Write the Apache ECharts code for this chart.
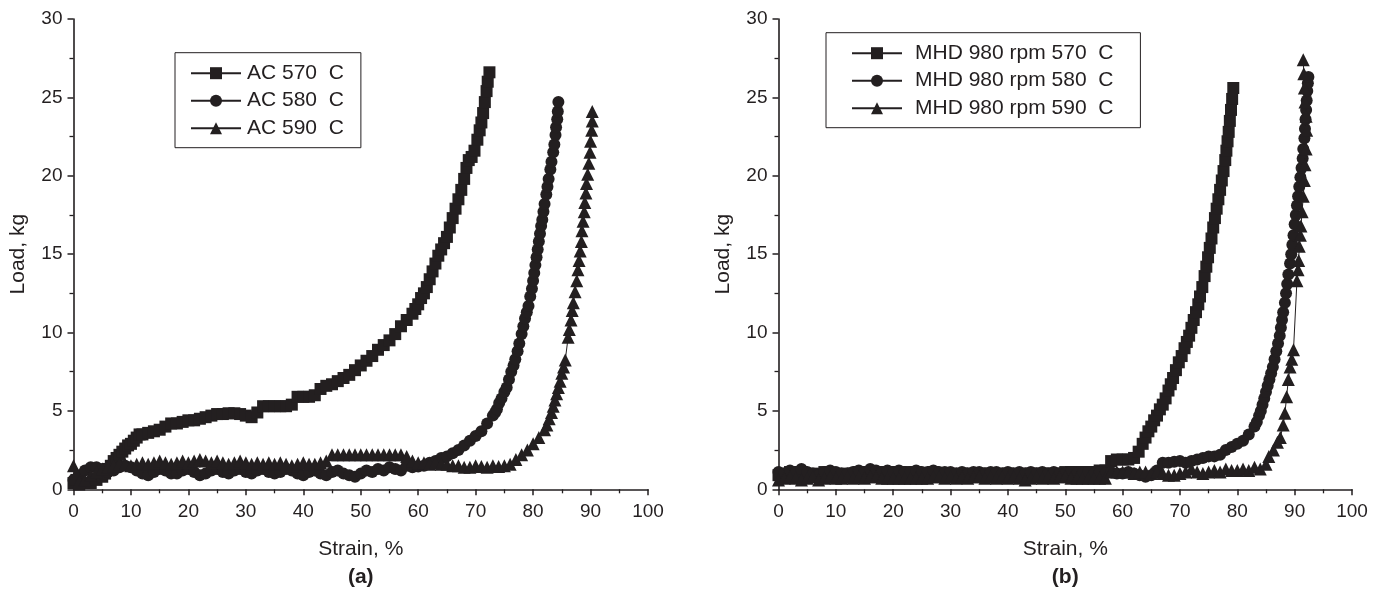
<!DOCTYPE html>
<html>
<head>
<meta charset="utf-8">
<script src="https://cdn.jsdelivr.net/npm/echarts@6/dist/echarts.min.js"></script>
<style>
html,body{margin:0;padding:0;background:#fff;}
#chart{width:1379px;height:592px;}
</style>
</head>
<body>
<div id="chart"></div>
<script>
// ---------- data (strain %, load kg) ----------
const namesA = ['AC 570  C', 'AC 580  C', 'AC 590  C'];
const namesB = ['MHD 980 rpm 570  C', 'MHD 980 rpm 580  C', 'MHD 980 rpm 590  C'];
const panelLabels = ['(a)', '(b)'];
const xAxisName = 'Strain, %';
const yAxisName = 'Load, kg';

const ac570 = [[0,0.4],[0.5,0.6],[1,0.3],[2,0.4],[3,0.4],[4,0.6],[5,0.8],[5.5,1.0],[6,1.3],[6.5,1.5],[7,1.8],[7.5,2.0],[8,2.2],[8.5,2.4],[9,2.6],[9.5,2.8],[10,2.9],[10.5,3.1],[11,3.3],[11.5,3.5],[12,3.5],[13,3.6],[14,3.7],[15,3.8],[16,4.0],[17,4.2],[18,4.2],[19,4.3],[20,4.4],[21,4.4],[22,4.5],[23,4.6],[24,4.7],[25,4.8],[26,4.8],[27,4.85],[28,4.85],[29,4.8],[30,4.7],[31,4.6],[32,4.9],[33,5.3],[34,5.3],[35,5.3],[36,5.3],[37,5.3],[38,5.4],[39,5.9],[40,5.9],[41,5.9],[42,6.0],[43,6.4],[44,6.6],[45,6.7],[46,6.9],[47,7.1],[48,7.3],[49,7.6],[50,7.9],[51,8.2],[52,8.5],[53,8.9],[54,9.2],[55,9.5],[56,9.9],[57,10.4],[58,10.8],[59,11.2],[59.5,11.5],[60,11.8],[60.5,12.2],[61,12.5],[61.5,12.9],[62,13.4],[62.5,13.9],[63,14.4],[63.5,14.9],[64,15.3],[64.5,15.7],[65,16.1],[65.5,16.7],[66,17.3],[66.5,17.9],[67,18.5],[67.5,19.1],[68,19.8],[68.4,20.5],[68.8,21.0],[69.3,21.2],[69.8,21.6],[70.3,22.3],[70.7,22.9],[71.0,23.4],[71.3,24.0],[71.6,24.7],[71.9,25.4],[72.1,26.0],[72.4,26.6]];

const ac580 = [[0,0.6],[1,0.9],[2,1.2],[3,1.4],[4,1.4],[5,1.3],[6,1.1],[7,1.2],[8,1.4],[9,1.5],[10,1.4],[11,1.2],[12,1.0],[13,0.9],[14,1.1],[15,1.3],[16,1.2],[17,1.0],[18,1.0],[19,1.2],[20,1.3],[21,1.1],[22,0.9],[23,1.0],[24,1.2],[25,1.3],[26,1.1],[27,1.0],[28,1.2],[29,1.3],[30,1.1],[31,1.0],[32,1.2],[33,1.3],[34,1.1],[35,1.0],[36,1.1],[37,1.3],[38,1.2],[39,1.0],[40,0.9],[41,1.1],[42,1.2],[43,1.0],[44,0.9],[45,1.1],[46,1.2],[47,1.0],[48,0.9],[49,0.8],[50,1.0],[51,1.2],[52,1.1],[53,1.3],[54,1.2],[55,1.4],[56,1.3],[57,1.2],[58,1.5],[59,1.4],[60,1.45],[61,1.5],[62,1.7],[63,1.8],[64,2.0],[65,2.1],[66,2.3],[67,2.5],[68,2.8],[69,3.1],[70,3.4],[71,3.7],[72,4.2],[73,4.7],[73.4,4.9],[73.7,5.1],[74.1,5.5],[74.5,5.8],[75,6.2],[75.4,6.5],[75.8,7.0],[76.2,7.5],[76.6,7.9],[76.9,8.3],[77.3,8.8],[77.6,9.3],[78,9.9],[78.3,10.4],[78.6,10.9],[78.9,11.3],[79.2,11.7],[79.5,12.3],[79.8,12.8],[80,13.3],[80.2,13.8],[80.4,14.3],[80.6,14.8],[80.8,15.3],[81.0,15.8],[81.2,16.3],[81.4,16.8],[81.6,17.2],[81.8,17.7],[82.0,18.2],[82.3,18.8],[82.5,19.3],[82.7,19.8],[83.0,20.4],[83.2,20.9],[83.5,21.5],[83.7,22.0],[83.9,22.6],[84.0,23.1],[84.2,23.6],[84.3,24.1],[84.4,24.7]];

const ac590 = [[0,1.5],[0.5,1.0],[1,0.5],[2,0.6],[3,0.9],[4,1.1],[5,1.3],[6,1.4],[7,1.5],[8,1.6],[9,1.6],[10,1.5],[11,1.6],[12,1.7],[13,1.6],[14,1.7],[15,1.8],[16,1.7],[17,1.6],[18,1.7],[19,1.8],[20,1.7],[21,1.8],[22,1.9],[23,1.8],[24,1.7],[25,1.8],[26,1.7],[27,1.6],[28,1.7],[29,1.8],[30,1.7],[31,1.6],[32,1.7],[33,1.6],[34,1.7],[35,1.6],[36,1.7],[37,1.6],[38,1.5],[39,1.6],[40,1.7],[41,1.6],[42,1.6],[43,1.7],[44,1.8],[45,2.2],[46,2.2],[47,2.2],[48,2.2],[49,2.2],[50,2.2],[51,2.2],[52,2.2],[53,2.2],[54,2.2],[55,2.2],[56,2.2],[57,2.2],[58,2.1],[59,1.8],[60,1.7],[61,1.7],[62,1.6],[63,1.7],[64,1.6],[65,1.6],[66,1.5],[67,1.5],[68,1.4],[69,1.4],[70,1.5],[71,1.45],[72,1.4],[73,1.5],[74,1.45],[75,1.5],[76,1.6],[77,1.9],[78,2.2],[79,2.5],[80,2.9],[81,3.3],[82,3.8],[82.4,4.1],[82.8,4.5],[83.2,4.9],[83.5,5.3],[83.8,5.7],[84.1,6.1],[84.4,6.5],[84.7,6.9],[85.0,7.4],[85.3,7.8],[85.6,8.25],[86.1,9.7],[86.3,10.2],[86.6,10.8],[86.8,11.4],[87.0,11.9],[87.3,12.6],[87.6,13.3],[87.8,14.0],[88.0,14.6],[88.2,15.2],[88.4,15.8],[88.5,16.5],[88.7,17.1],[88.9,17.7],[89.0,18.3],[89.2,18.9],[89.3,19.5],[89.5,20.1],[89.7,20.8],[89.9,21.5],[90.0,22.2],[90.2,22.9],[90.3,23.5],[90.3,24.1]];

const mhd570 = [[0,0.9],[1,1.0],[2,1.1],[3,1.0],[4,1.1],[5,1.0],[6,0.9],[7,1.0],[8,1.1],[9,1.0],[10,1.0],[11,0.9],[12,1.0],[13,1.0],[14,1.1],[15,1.0],[16,1.1],[17,1.1],[18,1.0],[19,1.1],[20,1.1],[21,1.0],[22,1.1],[23,1.0],[24,1.1],[25,1.0],[26,1.0],[27,1.1],[28,1.0],[29,1.0],[30,1.0],[31,0.9],[32,1.0],[33,1.0],[34,0.9],[35,1.0],[36,1.0],[37,1.0],[38,0.9],[39,1.0],[40,1.0],[41,1.0],[42,0.9],[43,1.0],[44,1.0],[45,1.0],[46,1.0],[47,1.0],[48,1.0],[49,1.0],[50,1.1],[51,1.1],[52,1.1],[53,1.1],[54,1.1],[55,1.1],[56,1.2],[57,1.2],[58,1.8],[59,1.9],[60,1.9],[61,1.9],[62,2.0],[62.8,2.4],[63.5,2.9],[64,3.3],[64.5,3.7],[65,4.0],[65.5,4.4],[66,4.7],[66.5,5.1],[67,5.4],[67.5,5.8],[68,6.3],[68.4,6.7],[68.8,7.1],[69.3,7.6],[69.8,8.1],[70.3,8.5],[70.8,9.0],[71.2,9.4],[71.6,9.8],[72.0,10.3],[72.4,10.8],[72.8,11.3],[73.2,11.8],[73.5,12.3],[73.9,12.9],[74.3,13.6],[74.6,14.2],[74.9,14.8],[75.2,15.4],[75.5,16.0],[75.8,16.7],[76.1,17.3],[76.4,17.9],[76.7,18.5],[77.0,19.1],[77.3,19.7],[77.6,20.3],[77.9,21.0],[78.1,21.6],[78.3,22.2],[78.5,22.8],[78.7,23.5],[78.9,24.2],[79.1,24.9],[79.3,25.6]];

const mhd580 = [[0,1.1],[1,1.0],[2,1.2],[3,1.1],[4,1.3],[5,1.1],[6,1.0],[7,0.9],[8,1.1],[9,1.2],[10,1.1],[11,1.0],[12,1.0],[13,1.1],[14,1.2],[15,1.1],[16,1.3],[17,1.2],[18,1.1],[19,1.2],[20,1.1],[21,1.2],[22,1.1],[23,1.1],[24,1.2],[25,1.1],[26,1.1],[27,1.2],[28,1.1],[29,1.1],[30,1.1],[31,1.0],[32,1.1],[33,1.0],[34,1.1],[35,1.1],[36,1.0],[37,1.1],[38,1.1],[39,1.0],[40,1.1],[41,1.0],[42,1.1],[43,1.0],[44,1.1],[45,1.0],[46,1.1],[47,1.0],[48,1.1],[49,1.0],[50,1.0],[51,1.1],[52,1.0],[53,1.0],[54,1.1],[55,1.0],[56,1.1],[57,1.0],[58,1.1],[59,1.0],[60,1.0],[61,1.1],[62,1.0],[63,0.9],[64,0.8],[65,0.9],[66,1.2],[67,1.7],[68,1.7],[69,1.75],[70,1.8],[71,1.7],[72,1.8],[73,1.9],[74,2.0],[75,2.1],[76,2.1],[77,2.2],[78,2.5],[79,2.7],[80,2.9],[81,3.1],[82,3.5],[83,4.0],[83.4,4.3],[83.8,4.7],[84.1,5.0],[84.4,5.4],[84.7,5.8],[85.0,6.2],[85.3,6.6],[85.6,7.0],[85.9,7.4],[86.2,7.8],[86.5,8.3],[86.8,8.8],[87.1,9.3],[87.4,9.8],[87.6,10.3],[87.8,10.8],[88.0,11.3],[88.3,11.9],[88.5,12.5],[88.7,13.1],[88.9,13.7],[89.2,14.4],[89.4,15.0],[89.6,15.6],[89.8,16.2],[90.0,16.9],[90.2,17.5],[90.4,18.1],[90.6,18.7],[90.8,19.3],[91.0,19.9],[91.2,20.5],[91.4,21.1],[91.5,21.7],[91.7,22.4],[91.8,23.0],[91.9,23.6],[92.0,24.2],[92.1,24.8],[92.2,25.4],[92.3,25.9],[92.4,26.3]];

const mhd590 = [[0,0.6],[1,0.7],[2,0.8],[3,0.7],[4,0.6],[5,0.7],[6,0.8],[7,0.6],[8,0.7],[9,0.8],[10,0.7],[11,0.7],[12,0.8],[13,0.7],[14,0.8],[15,0.7],[16,0.8],[17,0.8],[18,0.7],[19,0.7],[20,0.7],[21,0.7],[22,0.7],[23,0.7],[24,0.7],[25,0.7],[26,0.7],[27,0.8],[28,0.8],[29,0.7],[30,0.8],[31,0.7],[32,0.8],[33,0.7],[34,0.8],[35,0.8],[36,0.7],[37,0.8],[38,0.7],[39,0.8],[40,0.7],[41,0.8],[42,0.7],[43,0.6],[44,0.7],[45,0.8],[46,0.7],[47,0.8],[48,0.7],[49,0.8],[50,0.8],[51,0.7],[52,0.7],[53,0.7],[54,0.7],[55,0.7],[56,0.7],[57,0.7],[58,1.1],[59,1.1],[60,1.1],[61,1.1],[62,1.0],[63,1.1],[64,1.1],[65,1.0],[66,1.1],[67,1.0],[68,0.9],[69,0.9],[70,1.0],[71,1.1],[72,1.3],[73,1.1],[74,1.0],[75,1.1],[76,1.2],[77,1.1],[78,1.3],[79,1.2],[80,1.2],[81,1.3],[82,1.2],[83,1.4],[84,1.3],[85,1.6],[85.5,2.1],[86.3,2.5],[87.0,3.0],[87.5,3.3],[88.0,4.1],[88.3,4.85],[88.6,5.9],[88.9,7.0],[89.2,7.8],[89.5,8.3],[89.8,8.9],[90.4,13.3],[90.6,14.0],[90.7,14.6],[90.8,15.5],[91.0,16.2],[91.1,16.8],[91.3,17.7],[91.5,18.7],[91.7,19.7],[91.8,20.7],[92.0,21.7],[92.1,22.9],[92.0,23.8],[91.8,24.7],[91.7,25.6],[91.6,26.5],[91.5,27.4]];

// ---------- styling ----------
const INK = '#231f20';
const FONT = 'Liberation Sans, Arial, Helvetica, sans-serif';
const symbols = ['rect', 'circle', 'triangle'];

function xAxisCfg(gi) {
  return {
    gridIndex: gi, type: 'value', min: 0, max: 100, interval: 10,
    name: xAxisName, nameLocation: 'middle', nameGap: 49,
    nameTextStyle: { fontSize: 21, color: INK, fontFamily: FONT },
    axisLine: { show: true, onZero: false, lineStyle: { color: INK, width: 1.6 } },
    axisTick: { show: true, inside: false, length: 6, lineStyle: { color: INK, width: 1.5 } },
    minorTick: { show: true, splitNumber: 2, length: 4, lineStyle: { color: INK, width: 1.3 } },
    axisLabel: { fontSize: 19, color: INK, fontFamily: FONT, margin: 13 },
    splitLine: { show: false }
  };
}
function yAxisCfg(gi) {
  return {
    gridIndex: gi, type: 'value', min: 0, max: 30, interval: 5,
    name: yAxisName, nameLocation: 'middle', nameGap: 45,
    nameTextStyle: { fontSize: 21, color: INK, fontFamily: FONT },
    axisLine: { show: true, onZero: false, lineStyle: { color: INK, width: 1.6 } },
    axisTick: { show: true, inside: false, length: 6, lineStyle: { color: INK, width: 1.5 } },
    minorTick: { show: true, splitNumber: 2, length: 4, lineStyle: { color: INK, width: 1.3 } },
    axisLabel: { fontSize: 19, color: INK, fontFamily: FONT, margin: 11 },
    splitLine: { show: false }
  };
}
function seriesCfg(name, data, gi, k) {
  return {
    name: name, type: 'line', data: data, xAxisIndex: gi, yAxisIndex: gi,
    symbol: symbols[k], symbolSize: k === 2 ? 13 : 12, showAllSymbol: true,
    lineStyle: { color: INK, width: 1 }, itemStyle: { color: INK, borderWidth: 0 },
    emphasis: { disabled: true }, animation: false, z: 2 + k
  };
}
function legendCfg(names, left, top, padding, textPad) {
  return {
    data: names, orient: 'vertical', left: left, top: top,
    padding: padding, itemGap: 6.5, itemWidth: 50, itemHeight: 15,
    borderColor: INK, borderWidth: 1, backgroundColor: '#fff',
    selectedMode: false,
    textStyle: { fontSize: 21, color: INK, fontFamily: FONT, lineHeight: 20, padding: [0, 0, 0, textPad] }
  };
}

const chart = echarts.init(document.getElementById('chart'), null, { renderer: 'canvas' });
chart.setOption({
  backgroundColor: '#fff',
  animation: false,
  grid: [
    { left: 73.5, top: 19, width: 574.5, height: 470.3 },
    { left: 778.5, top: 19, width: 573.5, height: 470.3 }
  ],
  xAxis: [xAxisCfg(0), xAxisCfg(1)],
  yAxis: [yAxisCfg(0), yAxisCfg(1)],
  legend: [
    legendCfg(namesA, 175, 52.7, [10, 17, 9, 15], 1),
    legendCfg(namesB, 826, 32.7, [10, 27, 9, 25], 8)
  ],
  graphic: [
    { type: 'text', x: 360.75, y: 577, style: { text: panelLabels[0], fill: INK, font: 'bold 21px ' + FONT, align: 'center', verticalAlign: 'middle' } },
    { type: 'text', x: 1065.25, y: 577, style: { text: panelLabels[1], fill: INK, font: 'bold 21px ' + FONT, align: 'center', verticalAlign: 'middle' } }
  ],
  series: [
    seriesCfg(namesA[0], ac570, 0, 0),
    seriesCfg(namesA[1], ac580, 0, 1),
    seriesCfg(namesA[2], ac590, 0, 2),
    seriesCfg(namesB[0], mhd570, 1, 0),
    seriesCfg(namesB[1], mhd580, 1, 1),
    seriesCfg(namesB[2], mhd590, 1, 2)
  ]
});
</script>
</body>
</html>
